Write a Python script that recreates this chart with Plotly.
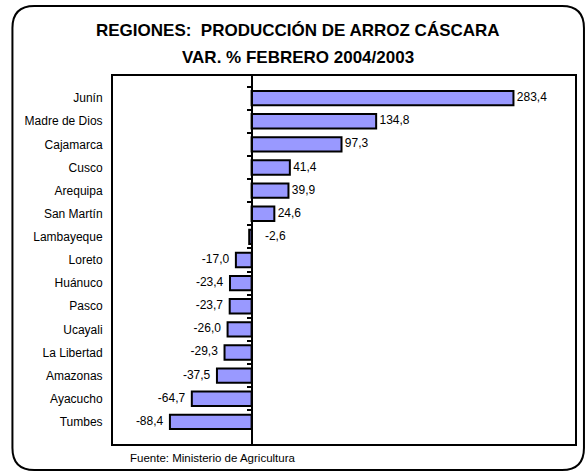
import plotly.graph_objects as go

regiones = ["Junín", "Madre de Dios", "Cajamarca", "Cusco", "Arequipa", "San Martín",
            "Lambayeque", "Loreto", "Huánuco", "Pasco", "Ucayali", "La Libertad",
            "Amazonas", "Ayacucho", "Tumbes"]
var_pct = [283.4, 134.8, 97.3, 41.4, 39.9, 24.6, -2.6, -17.0, -23.4, -23.7, -26.0,
           -29.3, -37.5, -64.7, -88.4]

W, H = 588, 472
ML, MR, MT, MB = 113, 11, 76, 28
PW, PH = W - ML - MR, H - MT - MB
FONT = "Liberation Sans, Arial, sans-serif"
XMIN, XMAX = -150, 350


def py(p):
    # pixel row (from top of page) -> paper fraction
    return (H - MB - p) / PH


# labels: right of positive bars, left of negative ones; tiny negatives sit right of the axis
etiquetas, pos_txt, x_txt = [], [], []
for v in var_pct:
    t = f"{v:.1f}".replace(".", ",")
    if v > 0:
        etiquetas.append("\u00a0" + t)
        pos_txt.append("middle right")
        x_txt.append(v)
    elif v > -5:
        etiquetas.append("\u00a0\u00a0\u00a0\u00a0" + t)
        pos_txt.append("middle right")
        x_txt.append(0)
    else:
        etiquetas.append(t + "\u00a0\u00a0")
        pos_txt.append("middle left")
        x_txt.append(v)

fig = go.Figure()
fig.add_trace(go.Bar(
    x=var_pct, y=regiones, orientation="h",
    marker=dict(color="#9999FF", line=dict(color="black", width=2)),
    width=0.62, hoverinfo="x+y",
))
fig.add_trace(go.Scatter(
    x=x_txt, y=regiones, mode="text", text=etiquetas, textposition=pos_txt,
    textfont=dict(family=FONT, size=12, color="black"),
    hoverinfo="skip", cliponaxis=False,
))
# invisible trace that carries the zero axis with its boundary ticks
fig.add_trace(go.Scatter(
    x=[0] * len(regiones), y=regiones, yaxis="y2", mode="markers",
    marker=dict(opacity=0), hoverinfo="skip", showlegend=False,
))

zero_pos = (0 - XMIN) / (XMAX - XMIN)

fig.update_layout(
    width=W, height=H,
    margin=dict(l=ML, r=MR, t=MT, b=MB),
    paper_bgcolor="white", plot_bgcolor="white",
    showlegend=False,
    font=dict(family=FONT, size=12, color="black"),
    xaxis=dict(range=[XMIN, XMAX], showgrid=False, zeroline=False,
               showticklabels=False, ticks="", showline=True, mirror=True,
               linecolor="black", linewidth=2),
    yaxis=dict(autorange="reversed", showgrid=False, zeroline=False,
               ticks="", showline=True, mirror=True, linecolor="black",
               linewidth=2, tickfont=dict(size=12), ticklabelstandoff=6),
    yaxis2=dict(overlaying="y", matches="y", anchor="free", position=zero_pos,
                side="left", showgrid=False, zeroline=False, showticklabels=False,
                ticks="outside", ticklen=4, tickwidth=2, tickcolor="black",
                tickson="boundaries", showline=True, linecolor="black", linewidth=2),
)

tx = (299 - ML) / PW
fig.add_annotation(text="<b>REGIONES:\u00a0 PRODUCCIÓN DE ARROZ CÁSCARA</b>",
                   xref="paper", yref="paper", x=tx, y=py(30),
                   xanchor="center", yanchor="middle",
                   showarrow=False, font=dict(size=17, family=FONT))
fig.add_annotation(text="<b>VAR. % FEBRERO 2004/2003</b>",
                   xref="paper", yref="paper", x=tx, y=py(58),
                   xanchor="center", yanchor="middle",
                   showarrow=False, font=dict(size=17, family=FONT))
fig.add_annotation(text="Fuente: Ministerio de Agricultura",
                   xref="paper", yref="paper", x=(128 - ML) / PW, y=py(458),
                   xanchor="left", yanchor="middle",
                   showarrow=False, font=dict(size=11.5, family=FONT))

# rounded outer frame
x0, x1 = (12 - ML) / PW, (586 - ML) / PW
y1, y0 = py(6), py(470)
rx, ry = 22 / PW, 22 / PH
path = (f"M {x0 + rx},{y1} L {x1 - rx},{y1} Q {x1},{y1} {x1},{y1 - ry} "
        f"L {x1},{y0 + ry} Q {x1},{y0} {x1 - rx},{y0} "
        f"L {x0 + rx},{y0} Q {x0},{y0} {x0},{y0 + ry} "
        f"L {x0},{y1 - ry} Q {x0},{y1} {x0 + rx},{y1} Z")
fig.add_shape(type="path", path=path, xref="paper", yref="paper",
              line=dict(color="black", width=2), layer="above")

fig.write_html("out.html", config={"displayModeBar": False},
               post_script="document.body.style.margin='0';")
